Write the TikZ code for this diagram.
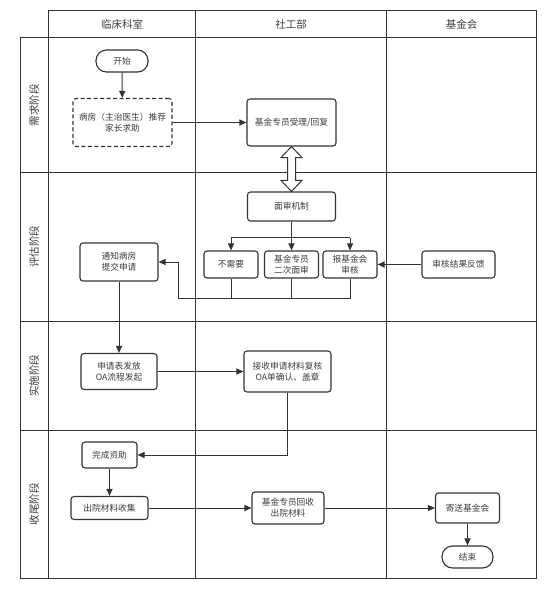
\documentclass[tikz,border=0pt]{standalone}
\usepackage{fontspec}
\setmainfont{Noto Sans CJK SC}
\usetikzlibrary{arrows.meta,calc}
\definecolor{linec}{HTML}{333333}
\definecolor{textc}{HTML}{3C3C3C}
\begin{document}
\begin{tikzpicture}[x=1pt,y=-1pt,
  box/.style={draw=linec, line width=1.1pt, rounded corners=3pt, inner sep=0pt, align=center,
    font=\fontsize{8.7}{11}\selectfont, text=textc},
  pill/.style={box, rounded corners=10.5pt},
  dashbox/.style={box, dash pattern=on 4pt off 2.5pt},
  conn/.style={draw=linec, line width=1pt, -{Triangle[length=7pt,width=6pt]}},
  plain/.style={draw=linec, line width=1pt},
  frame/.style={draw=linec, line width=1pt},
  head/.style={font=\fontsize{10.5}{12}\selectfont, text=textc, inner sep=0pt},
  lane/.style={font=\fontsize{10.5}{12}\selectfont, text=textc, inner sep=0pt, rotate=90}
]
\useasboundingbox (0,0) rectangle (558,595);
% frame
\draw[frame] (48,10.5) rectangle (536.5,37);
\draw[frame] (20.5,37) rectangle (536.5,578);
\draw[frame] (48,37) -- (48,578);
\draw[frame] (195.5,10.5) -- (195.5,578);
\draw[frame] (386.5,10.5) -- (386.5,578);
\draw[frame] (20.5,172) -- (536.5,172);
\draw[frame] (20.5,321) -- (536.5,321);
\draw[frame] (20.5,430) -- (536.5,430);
% headers
\node[head] (h1) at (122,24) {临床科室};
\node[head] (h2) at (291,24) {社工部};
\node[head] (h3) at (461.5,24) {基金会};
% lane labels
\node[lane] (l1) at (34,105) {需求阶段};
\node[lane] (l2) at (34,246.5) {评估阶段};
\node[lane] (l3) at (34,375.5) {实施阶段};
\node[lane] (l4) at (34,504) {收尾阶段};
% nodes
\node[pill, minimum width=52pt, minimum height=22pt] (start) at (122,61) {开始};
\node[dashbox, minimum width=99pt, minimum height=48pt] (ward) at (122.5,122.5) {病房（主治医生）推荐\\家长求助};
\node[box, minimum width=89pt, minimum height=47pt] (recv) at (291.5,122.5) {基金专员受理/回复};
\node[box, minimum width=88pt, minimum height=29pt] (mech) at (291.5,206.5) {面审机制};
\node[box, minimum width=54pt, minimum height=27pt] (noneed) at (231,264.5) {不需要};
\node[box, minimum width=54pt, minimum height=27pt] (second) at (291.5,264.5) {基金专员\\二次面审};
\node[box, minimum width=54pt, minimum height=27pt] (report) at (350,264.5) {报基金会\\审核};
\node[box, minimum width=73pt, minimum height=27pt] (feedback) at (458.5,264.5) {审核结果反馈};
\node[box, minimum width=78pt, minimum height=38pt] (notify) at (119,262) {通知病房\\提交申请};
\node[box, minimum width=76pt, minimum height=36pt] (apply) at (119,371.5) {申请表发放\\OA流程发起};
\node[box, minimum width=87pt, minimum height=41pt] (check) at (287.5,371.5) {接收申请材料复核\\OA单确认、盖章};
\node[box, minimum width=55pt, minimum height=26pt] (done) at (109.5,455) {完成资助};
\node[box, minimum width=77pt, minimum height=23pt] (collect) at (109.5,508) {出院材料收集};
\node[box, minimum width=72pt, minimum height=32pt] (fundrec) at (288,508) {基金专员回收\\出院材料};
\node[box, minimum width=64pt, minimum height=30pt] (send) at (467.5,508) {寄送基金会};
\node[pill, minimum width=51pt, minimum height=22pt] (end) at (467.5,557) {结束};
% connectors
\draw[conn] (start) -- (ward);
\draw[conn] (ward) -- (recv);
\draw[plain, fill=white, line join=miter]
  (recv.south) -- ($(recv.south)+(10.5,11)$) -- ($(recv.south)+(4,11)$)
  -- ($(mech.north)+(4,-11)$) -- ($(mech.north)+(10.5,-11)$) -- (mech.north)
  -- ($(mech.north)+(-10.5,-11)$) -- ($(mech.north)+(-4,-11)$)
  -- ($(recv.south)+(-4,11)$) -- ($(recv.south)+(-10.5,11)$) -- cycle;
\coordinate (split) at ($(mech.south)+(0,16)$);
\draw[plain] (split -| noneed) -- (split -| report);
\draw[conn] (mech) -- (second);
\draw[conn] (split -| noneed) -- (noneed);
\draw[conn] (split -| report) -- (report);
\coordinate (merge) at (178,298);
\draw[plain] (noneed) -- (noneed |- merge);
\draw[plain] (second) -- (second |- merge);
\draw[plain] (report) -- (report |- merge) -- (merge);
\draw[conn] (merge) |- (notify.east);
\draw[conn] (feedback) -- (report);
\draw[conn] (notify) -- (apply);
\draw[conn] (apply) -- (check);
\draw[conn] (check.south) |- (done.east);
\draw[conn] (done) -- (collect);
\draw[conn] (collect) -- (fundrec);
\draw[conn] (fundrec) -- (send);
\draw[conn] (send) -- (end);
\end{tikzpicture}
\end{document}
